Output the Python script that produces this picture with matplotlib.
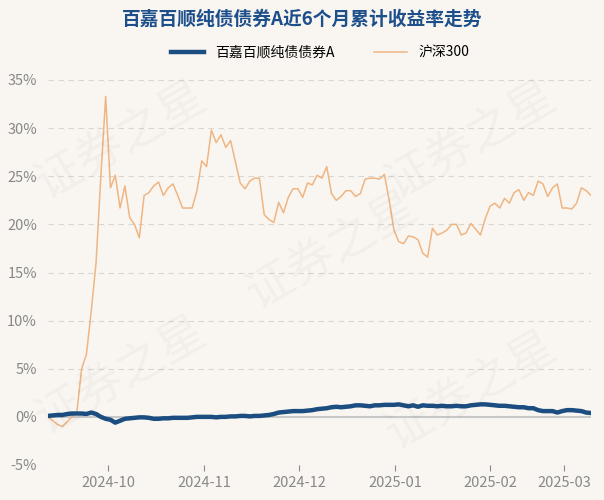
import matplotlib
matplotlib.use("Agg")
import matplotlib.pyplot as plt
import numpy as np

plt.rcParams['font.family'] = ['Noto Sans CJK SC', 'DejaVu Sans']

hs300 = [0, -0.4, -0.8, -1.0, -0.5, 0.0, 0.5, 5.0, 6.5, 11, 16, 25, 33.3, 23.8,
         25.1, 21.7, 24, 20.7, 20, 18.6, 23, 23.3, 24, 24.4,
         23, 23.8, 24.2, 23, 21.7, 21.7, 21.7, 23.5, 26.6, 26,
         29.8, 28.5, 29.3, 28, 28.7, 26.5, 24.3, 23.7, 24.5, 24.8,
         24.8, 21, 20.5, 20.2, 22.3, 21.2, 22.8, 23.7, 23.7,
         22.8, 24.3, 24.1, 25.1, 24.8, 26, 23.2, 22.5, 22.9, 23.5,
         23.5, 22.9, 23.2, 24.7, 24.8, 24.8, 24.7, 25.2, 22.5, 19.4,
         18.2, 18, 18.8, 18.7, 18.4, 17, 16.6, 19.6, 18.9, 19.1,
         19.4, 20, 20, 18.9, 19.1, 20.1, 19.5, 18.9, 20.6, 21.9,
         22.2, 21.7, 22.7, 22.2, 23.3, 23.6, 22.5, 23.3, 23, 24.5,
         24.2, 22.9, 23.8, 24.2, 21.7, 21.7, 21.6, 22.2, 23.8, 23.5, 23]
fund = [0.1, 0.15, 0.2, 0.2, 0.3, 0.35, 0.35, 0.35, 0.3, 0.45, 0.3, 0.0, -0.2, -0.3,
        -0.6, -0.4, -0.2, -0.15, -0.1, -0.05, -0.05, -0.1, -0.2, -0.2,
        -0.15, -0.15, -0.1, -0.1, -0.1, -0.1, -0.05, 0, 0, 0,
        0, -0.05, 0, 0, 0.05, 0.05, 0.1, 0.1, 0.05, 0.1,
        0.1, 0.15, 0.2, 0.3, 0.45, 0.5, 0.55, 0.6, 0.6,
        0.6, 0.65, 0.7, 0.8, 0.85, 0.9, 1.0, 1.05, 1.0, 1.05,
        1.1, 1.2, 1.2, 1.15, 1.1, 1.2, 1.2, 1.25, 1.25, 1.25,
        1.3, 1.2, 1.1, 1.2, 1.05, 1.2, 1.15, 1.15, 1.1, 1.15,
        1.1, 1.1, 1.15, 1.1, 1.1, 1.2, 1.25, 1.3, 1.3, 1.25,
        1.2, 1.15, 1.15, 1.1, 1.05, 1.0, 1.0, 0.9, 0.9, 0.7,
        0.6, 0.6, 0.6, 0.45, 0.6, 0.7, 0.7, 0.65, 0.6, 0.45, 0.4]
tick_pos = [12.5, 32.5, 52.3, 72.2, 92, 107.4]
tick_labels = ['2024-10', '2024-11', '2024-12', '2025-01', '2025-02', '2025-03']
yticks = [-5, 0, 5, 10, 15, 20, 25, 30, 35]

n = min(len(hs300), len(fund))
x = np.arange(n)

bg = '#f9f6f2'
fig = plt.figure(figsize=(6.04, 5.0), dpi=100, facecolor=bg)
ax = fig.add_axes([48/604, 35/500, 543/604, 385/500], facecolor=bg)

for t in yticks:
    if t != 0:
        ax.axhline(t, color='#d9d6d2', lw=0.8, ls=(0, (5, 4)), zorder=0)
ax.axhline(0, color='#c8c8c8', lw=1.5, zorder=1)

ax.plot(x, fund[:n], color='#1c4d80', lw=3.2, label='百嘉百顺纯债债券A', zorder=3)
ax.plot(x, hs300[:n], color='#efb582', lw=1.1, label='沪深300', zorder=2)

ax.set_xlim(0, n - 1)
ax.set_ylim(-5, 35)
ax.set_yticks(yticks)
ax.set_yticklabels([f'{t}%' for t in yticks])
ax.set_xticks(tick_pos)
ax.set_xticklabels(tick_labels)
ax.tick_params(axis='both', colors='#888888', labelsize=10.5, length=0)
ax.tick_params(axis='x', length=4, color='#888888', pad=4)
ax.tick_params(axis='y', pad=8)
for s in ax.spines.values():
    s.set_visible(False)

for (tx, ty) in [(0.2, 0.72), (0.2, 0.25), (0.55, 0.5), (0.78, 0.72), (0.78, 0.22)]:
    fig.text(tx, ty, '证券之星', fontsize=34, color='#000000', alpha=0.03,
             rotation=30, ha='center', va='center')

fig.text(0.5, 0.962, '百嘉百顺纯债债券A近6个月累计收益率走势', ha='center', va='center',
         fontsize=13.5, fontweight='bold', color='#1d4f8b')
fig.legend(loc='center', bbox_to_anchor=(0.53, 0.895), ncol=2, frameon=False,
           fontsize=10, handlelength=2.4, columnspacing=2.8)

fig.savefig('out.png', dpi=100, facecolor=bg)
